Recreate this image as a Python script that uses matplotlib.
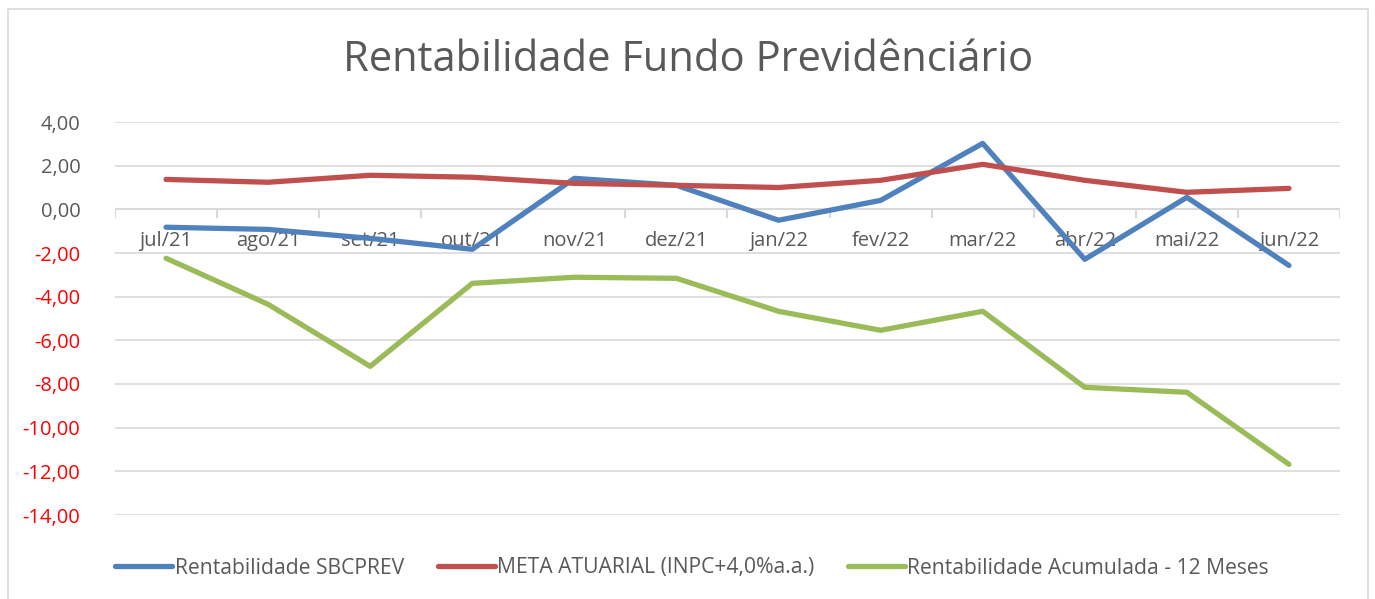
import matplotlib
matplotlib.use('Agg')
import matplotlib.pyplot as plt
from matplotlib.patches import Rectangle

plt.rcParams['font.family'] = ['Open Sans', 'DejaVu Sans']

months = ['jul/21', 'ago/21', 'set/21', 'out/21', 'nov/21', 'dez/21',
          'jan/22', 'fev/22', 'mar/22', 'abr/22', 'mai/22', 'jun/22']

# valores (%)
rent_sbcprev = [-0.82, -0.92, -1.33, -1.83, 1.42, 1.10, -0.50, 0.41, 3.02, -2.29, 0.55, -2.57]
meta_atuarial = [1.37, 1.24, 1.56, 1.47, 1.19, 1.10, 1.00, 1.33, 2.06, 1.33, 0.78, 0.96]
rent_acum_12m = [-2.24, -4.35, -7.19, -3.39, -3.11, -3.16, -4.67, -5.54, -4.67, -8.15, -8.38, -11.68]

yticks = [4, 2, 0, -2, -4, -6, -8, -10, -12, -14]

fig = plt.figure(figsize=(13.75, 5.99), dpi=100)
ax = fig.add_axes([115 / 1375, 1 - 515 / 599, 1225 / 1375, 393 / 599])

x = list(range(len(months)))
lw = 3.8
ax.plot(x, rent_sbcprev, color='#4F81BD', lw=lw, solid_capstyle='round', label='Rentabilidade SBCPREV', zorder=3)
ax.plot(x, meta_atuarial, color='#C0504D', lw=lw, solid_capstyle='round', label='META ATUARIAL (INPC+4,0%a.a.)', zorder=3)
ax.plot(x, rent_acum_12m, color='#9BBB59', lw=lw, solid_capstyle='round', label='Rentabilidade Acumulada - 12 Meses', zorder=3)

ax.set_xlim(-0.5, len(months) - 0.5)
ax.set_ylim(-14, 4)
ax.set_yticks(yticks)
ax.set_yticklabels([f'{v:.2f}'.replace('.', ',') for v in yticks], fontsize=14.5)
for lbl, v in zip(ax.get_yticklabels(), yticks):
    lbl.set_color('#FF0000' if v < 0 else '#595959')
ax.tick_params(axis='y', length=0, pad=25)
ax.grid(axis='y', color='#D9D9D9', lw=1.2)
ax.set_axisbelow(True)
for s in ax.spines.values():
    s.set_visible(False)

# eixo x no zero, com marcas entre categorias
ax.axhline(0, color='#D9D9D9', lw=1.5, zorder=2)
ax.set_xticks([])
for b in [i - 0.5 for i in range(len(months) + 1)]:
    ax.plot([b, b], [0, -0.35], color='#D9D9D9', lw=1.5, zorder=2)
for i, m in enumerate(months):
    ax.text(i, -1.45, m, ha='center', va='center', fontsize=14.5, color='#595959', zorder=2)

fig.text(688 / 1375, 1 - 60 / 599, 'Rentabilidade Fundo Previdênciário', ha='center', va='center',
         fontsize=30, color='#595959')

leg = fig.legend(loc='center', bbox_to_anchor=(692 / 1375, 1 - 568 / 599), ncol=3, frameon=False,
                 fontsize=15.2, handlelength=2.7, handletextpad=0.1, columnspacing=1.6)
for t in leg.get_texts():
    t.set_color('#595959')

fig.patches.append(Rectangle((8 / 1375, -0.1), 1360 / 1375, 1.1 - 9 / 599, transform=fig.transFigure,
                             fill=False, edgecolor='#D9D9D9', lw=1.2))

fig.savefig('out.png', dpi=100)
